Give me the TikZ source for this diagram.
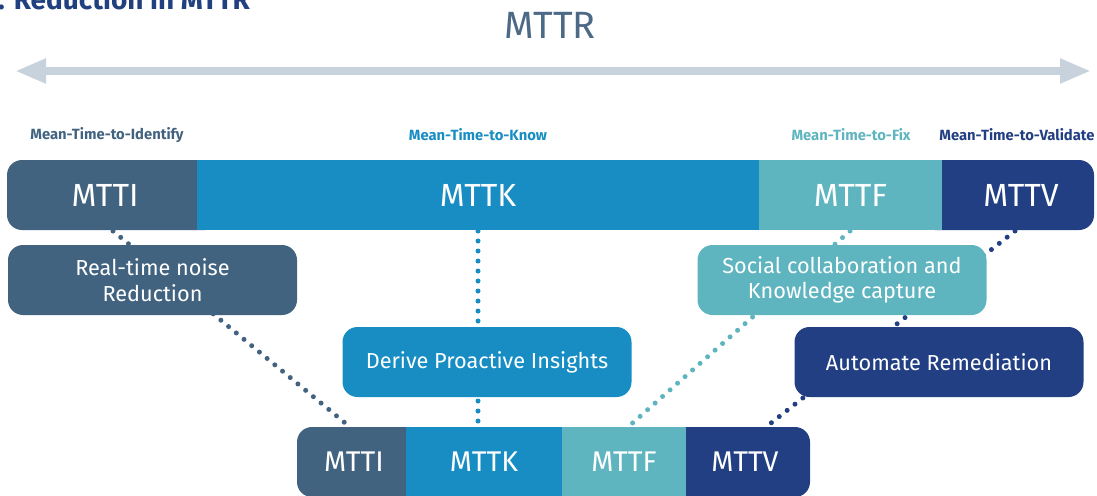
\documentclass[tikz,border=0pt]{standalone}
\usepackage{fontspec}
\setmainfont{Fira Sans}
\usetikzlibrary{arrows.meta}
\definecolor{cI}{HTML}{42637F}
\definecolor{cK}{HTML}{178DC3}
\definecolor{cF}{HTML}{5FB5BF}
\definecolor{cV}{HTML}{213F82}
\definecolor{cArrow}{HTML}{C8D2DC}
\definecolor{cMTTR}{HTML}{4C6A86}
\definecolor{cTitle}{HTML}{21407F}
\tikzset{
  seg/.style={minimum height=70pt, inner sep=0pt, text=white, font=\fontsize{32}{32}\selectfont},
  bseg/.style={minimum height=70pt, inner sep=0pt, text=white, font=\fontsize{28.5}{28.5}\selectfont},
  stepbox/.style={rounded corners=15pt, minimum width=289pt, minimum height=70pt, inner sep=0pt,
    text=white, align=center, font=\fontsize{21.7}{25.5}\selectfont},
  toplabel/.style={font=\bfseries\fontsize{14.8}{15}\selectfont, inner sep=0pt},
  dots/.style={line width=5pt, dash pattern=on 0pt off 10pt, line cap=round}
}
\begin{document}
\begin{tikzpicture}[x=1pt,y=-1pt]
\useasboundingbox (0,0) rectangle (1097,495);
% title (cut off)
\node[anchor=base west, inner sep=0pt, text=cTitle, font=\bfseries\fontsize{28}{28}\selectfont] (title) at (-2,10) {. Reduction in MTTR};
% MTTR
\node[text=cMTTR, font=\fontsize{38}{38}\selectfont, inner sep=0pt] (mttr) at (550,25) {MTTR};
% double arrow
\coordinate (arL) at (15,71);
\coordinate (arR) at (1091,71);
\draw[cArrow, line width=8pt, {Triangle[length=31pt,width=23pt]}-{Triangle[length=31pt,width=23pt]}] (arL) -- (arR);
% labels
\node[toplabel, text=cI] (lI) at (107,135) {Mean-Time-to-Identify};
\node[toplabel, text=cK] (lK) at (478,135) {Mean-Time-to-Know};
\node[toplabel, text=cF] (lF) at (851,135) {Mean-Time-to-Fix};
\node[toplabel, text=cV] (lV) at (1017,135) {Mean-Time-to-Validate};
% dotted connectors (behind)
\coordinate (i1) at (113,231); \coordinate (i2) at (350,427);
\coordinate (k1) at (478,231); \coordinate (k2) at (478,427);
\coordinate (f1) at (850,231); \coordinate (f2) at (628,427);
\coordinate (v1) at (1015,231); \coordinate (v2) at (766,427);
\draw[dots, cI] (i1) -- (i2);
\draw[dots, cK] (k1) -- (k2);
\draw[dots, cF] (f1) -- (f2);
\draw[dots, cV] (v1) -- (v2);
% top bar
\fill[cI, rounded corners=15pt] (7,160) rectangle (220,230);
\fill[cV, rounded corners=15pt] (920,160) rectangle (1094,230);
\node[seg, fill=cK, minimum width=562pt] (tK) at (478,195) {MTTK};
\node[seg, fill=cF, minimum width=183pt] (tF) at (850.5,195) {MTTF};
\node[seg, minimum width=190pt] (tI) at (105,195) {MTTI};
\node[seg, minimum width=152pt] (tV) at (1021,195) {MTTV};
% boxes
\node[stepbox, fill=cI] (rn) at (152.5,280) {Real-time noise\\Reduction};
\node[stepbox, fill=cK] (dp) at (487,362) {Derive Proactive Insights};
\node[stepbox, fill=cF] (sc) at (842,280) {Social collaboration and\\Knowledge capture};
\node[stepbox, fill=cV] (ar) at (939,362) {Automate Remediation};
% bottom bar
\fill[cI, rounded corners=15pt] (297,427) rectangle (420,497);
\fill[cV, rounded corners=15pt] (670,427) rectangle (810,497);
\node[bseg, fill=cK, minimum width=156pt] (bK) at (484,462) {MTTK};
\node[bseg, fill=cF, minimum width=124pt] (bF) at (624,462) {MTTF};
\node[bseg, minimum width=109pt] (bI) at (354,462) {MTTI};
\node[bseg, minimum width=124pt] (bV) at (745,462) {MTTV};
\end{tikzpicture}
\end{document}
